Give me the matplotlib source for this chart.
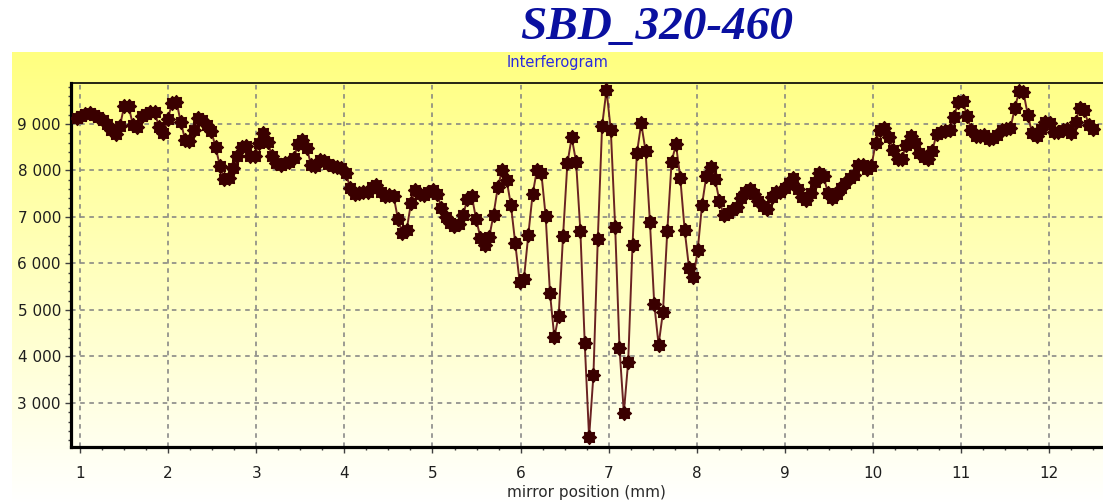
import numpy as np
import matplotlib
matplotlib.use("Agg")
import matplotlib.pyplot as plt
from matplotlib.path import Path
from matplotlib.ticker import MultipleLocator, FuncFormatter

# ---- data ----
x_start = 0.96
x_step = 0.0493
intensity = [
    9120, 9180, 9210, 9230, 9200, 9150, 9080, 8990, 8880, 8790,
    8960, 9390, 9380, 8970, 8940, 9180, 9220, 9260, 9250, 8930,
    8800, 9110, 9440, 9480, 9040, 8660, 8630, 8870, 9120, 9080,
    8980, 8850, 8510, 8100, 7820, 7830, 8050, 8300, 8500, 8520,
    8300, 8300, 8600, 8810, 8620, 8300, 8150, 8120, 8150, 8190,
    8260, 8560, 8660, 8480, 8120, 8100, 8220, 8200, 8130, 8090,
    8080, 8050, 7950, 7620, 7500, 7510, 7540, 7530, 7640, 7680,
    7540, 7450, 7480, 7450, 6950, 6660, 6720, 7300, 7580, 7500,
    7470, 7540, 7580, 7500, 7200, 7000, 6880, 6810, 6850, 7050,
    7380, 7450, 6950, 6550, 6400, 6560, 7050, 7650, 8010, 7800,
    7260, 6430, 5610, 5670, 6610, 7490, 8010, 7950, 7020, 5360,
    4410, 4880, 6580, 8150, 8710, 8190, 6690, 4280, 2260, 3600,
    6520, 8960, 9730, 8870, 6790, 4180, 2790, 3890, 6400, 8370,
    9010, 8420, 6900, 5130, 4250, 4950, 6690, 8190, 8560, 7830,
    6720, 5910, 5700, 6280, 7260, 7890, 8070, 7810, 7350, 7040,
    7080, 7150, 7220, 7400, 7530, 7600, 7500, 7350, 7230, 7180,
    7420, 7540, 7540, 7620, 7720, 7830, 7600, 7420, 7370, 7520,
    7750, 7940, 7870, 7510, 7410, 7500, 7620, 7730, 7830, 7900,
    8120, 8120, 8030, 8100, 8600, 8880, 8910, 8720, 8440, 8240,
    8250, 8550, 8730, 8580, 8380, 8290, 8240, 8420, 8780, 8830,
    8840, 8880, 9150, 9480, 9500, 9180, 8870, 8730, 8740, 8760,
    8680, 8700, 8760, 8870, 8900, 8910, 9340, 9700, 9680, 9190,
    8800, 8750, 8900, 9050, 9020, 8830, 8830, 8880, 8900, 8810,
    9050, 9350, 9300, 8980, 8890,
]
position = x_start + x_step * np.arange(len(intensity))

title = "SBD_320-460"
subtitle = "Interferogram"
xlabel = "mirror position (mm)"

# ---- figure ----
W, H = 1103, 503
fig = plt.figure(figsize=(W / 100, H / 100), dpi=100)
fig.patch.set_facecolor("white")

# yellow gradient panel
panel_top = 52
panel_left = 12
bg = fig.add_axes([panel_left / W, 0, 1 - panel_left / W, (H - panel_top) / H], zorder=0)
grad = np.linspace(0, 1, 256)[:, None]
c_top = np.array([1.0, 1.0, 0.50])
c_bot = np.array([1.0, 1.0, 1.0])
img = c_top[None, None, :] * (1 - grad[:, :, None]) + c_bot[None, None, :] * grad[:, :, None]
bg.imshow(img, aspect="auto", extent=[0, 1, 0, 1], origin="upper")
bg.set_axis_off()

# main axes
ax_left, ax_right, ax_top, ax_bot = 70.7, 1103, 83, 447
ax = fig.add_axes([ax_left / W, (H - ax_bot) / H, (ax_right - ax_left) / W, (ax_bot - ax_top) / H], zorder=1)
ax.patch.set_alpha(0)

# starburst marker
n = 16
ang = np.arange(n) * 2 * np.pi / n
rad = np.where(np.arange(n) % 2 == 0, 1.0, 0.72)
verts = np.column_stack([rad * np.cos(ang), rad * np.sin(ang)])
verts = np.vstack([verts, verts[0]])
codes = [Path.MOVETO] + [Path.LINETO] * (n - 1) + [Path.CLOSEPOLY]
star = Path(verts, codes)

ax.plot(position, intensity, color="#6a2222", lw=1.4, zorder=3)
ax.plot(position, intensity, linestyle="none", marker=star, markersize=10,
        markerfacecolor="#3a0000", markeredgecolor="#3a0000", zorder=4)

ax.set_xlim(0.894, 12.61)
ax.set_ylim(2054, 9880)

ax.xaxis.set_major_locator(MultipleLocator(1))
ax.xaxis.set_minor_locator(MultipleLocator(0.25))
ax.yaxis.set_major_locator(MultipleLocator(1000))
ax.yaxis.set_minor_locator(MultipleLocator(200))
ax.yaxis.set_major_formatter(FuncFormatter(lambda v, p: f"{v:,.0f}".replace(",", " ")))

ax.grid(True, which="major", color="#808080", linestyle=(0, (3, 3)), linewidth=1.1, zorder=1)

for s in ["right"]:
    ax.spines[s].set_visible(False)
ax.spines["left"].set_linewidth(2.3)
ax.spines["bottom"].set_linewidth(2.3)
ax.spines["top"].set_linewidth(1.2)
for s in ax.spines.values():
    s.set_color("black")

ax.tick_params(axis="both", which="major", direction="out", length=4.5, width=1.0,
               color="#404040", labelsize=11, labelcolor="#1e1e1e")
ax.tick_params(axis="both", which="minor", direction="out", length=2.2, width=1.0, color="#404040")
ax.tick_params(axis="x", which="major", pad=9)
ax.tick_params(axis="y", which="major", pad=2.5)

# texts
fig.text(657 / W, 1 - 28 / H, title, ha="center", va="center", fontsize=34,
         family="Liberation Serif", fontweight="bold", fontstyle="italic", color="#0a10a0")
fig.text(558 / W, 1 - 62 / H, subtitle, ha="center", va="center", fontsize=10.5,
         family="DejaVu Sans", color="#2a2ae0")
fig.text(586 / W, 1 - 493 / H, xlabel, ha="center", va="center", fontsize=11,
         family="DejaVu Sans", color="#2a2a2a")

fig.savefig("out.png", dpi=100)
